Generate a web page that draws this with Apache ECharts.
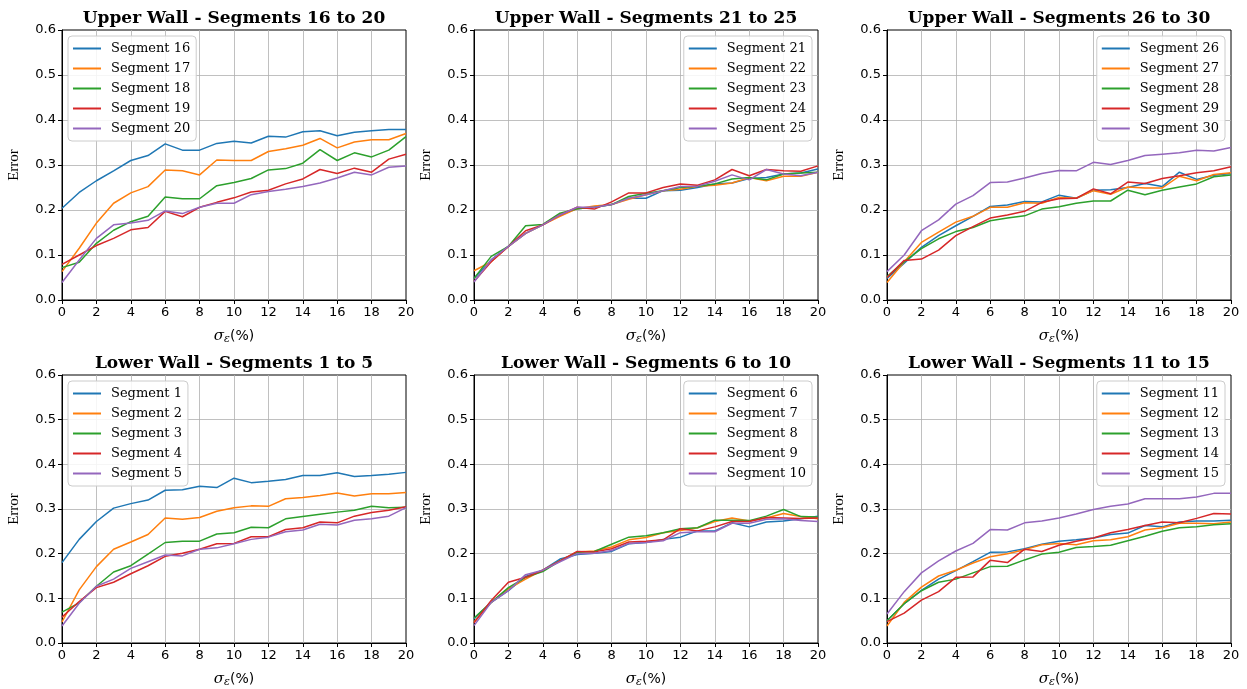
<!DOCTYPE html>
<html><head><meta charset="utf-8">
<script src="https://cdn.jsdelivr.net/npm/echarts@6/dist/echarts.min.js"></script>
<style>html,body{margin:0;padding:0;background:#fff}#c{width:1247px;height:689px}</style>
</head><body><div id="c"></div>
<script>
const xs = [0,1,2,3,4,5,6,7,8,9,10,11,12,13,14,15,16,17,18,19,20];
const xTicks = [0,2,4,6,8,10,12,14,16,18,20];
const yTicks = [0.0,0.1,0.2,0.3,0.4,0.5,0.6];

// Upper wall 16-20
const seg16 = [0.204,0.239,0.265,0.287,0.310,0.321,0.347,0.333,0.333,0.348,0.353,0.349,0.364,0.362,0.374,0.376,0.365,0.373,0.376,0.379,0.379];
const seg17 = [0.063,0.115,0.171,0.215,0.238,0.252,0.289,0.287,0.278,0.311,0.310,0.310,0.330,0.336,0.344,0.359,0.338,0.351,0.356,0.356,0.370];
const seg18 = [0.072,0.084,0.126,0.155,0.174,0.186,0.229,0.225,0.225,0.254,0.261,0.270,0.289,0.292,0.304,0.334,0.310,0.327,0.318,0.333,0.363];
const seg19 = [0.079,0.100,0.121,0.137,0.156,0.161,0.197,0.185,0.206,0.217,0.227,0.240,0.244,0.258,0.269,0.290,0.281,0.293,0.284,0.313,0.324];
const seg20 = [0.039,0.089,0.137,0.167,0.171,0.177,0.198,0.192,0.206,0.215,0.215,0.234,0.241,0.246,0.252,0.260,0.271,0.284,0.278,0.295,0.298];
// Upper wall 21-25
const seg21 = [0.048,0.089,0.119,0.148,0.167,0.189,0.203,0.206,0.212,0.226,0.226,0.243,0.244,0.250,0.258,0.260,0.270,0.272,0.280,0.282,0.291];
const seg22 = [0.065,0.085,0.119,0.148,0.167,0.186,0.203,0.209,0.212,0.224,0.234,0.243,0.246,0.253,0.255,0.260,0.272,0.265,0.275,0.275,0.284];
const seg23 = [0.048,0.097,0.119,0.165,0.168,0.193,0.203,0.206,0.212,0.230,0.237,0.243,0.250,0.253,0.258,0.269,0.272,0.267,0.280,0.282,0.284];
const seg24 = [0.041,0.085,0.119,0.154,0.167,0.189,0.206,0.202,0.218,0.238,0.238,0.250,0.258,0.255,0.267,0.290,0.276,0.290,0.287,0.286,0.298];
const seg25 = [0.040,0.089,0.119,0.148,0.167,0.189,0.206,0.206,0.212,0.226,0.234,0.243,0.252,0.253,0.264,0.278,0.267,0.290,0.280,0.276,0.284];
// Upper wall 26-30
const seg26 = [0.048,0.082,0.117,0.143,0.165,0.186,0.208,0.211,0.219,0.218,0.233,0.226,0.244,0.245,0.250,0.259,0.252,0.284,0.268,0.277,0.281];
const seg27 = [0.039,0.085,0.128,0.151,0.173,0.186,0.206,0.206,0.216,0.215,0.228,0.226,0.243,0.235,0.251,0.249,0.249,0.275,0.265,0.279,0.283];
const seg28 = [0.052,0.085,0.114,0.136,0.152,0.161,0.176,0.182,0.187,0.202,0.207,0.215,0.220,0.220,0.244,0.234,0.244,0.251,0.258,0.274,0.278];
const seg29 = [0.050,0.088,0.091,0.111,0.143,0.163,0.182,0.189,0.197,0.217,0.225,0.226,0.247,0.236,0.262,0.259,0.270,0.276,0.283,0.287,0.296];
const seg30 = [0.063,0.100,0.154,0.178,0.213,0.232,0.261,0.262,0.271,0.281,0.288,0.287,0.306,0.301,0.310,0.321,0.324,0.327,0.333,0.331,0.339];
// Lower wall 1-5
const seg1 = [0.180,0.232,0.272,0.302,0.312,0.320,0.342,0.343,0.351,0.348,0.369,0.359,0.362,0.366,0.375,0.375,0.381,0.373,0.375,0.378,0.382];
const seg2 = [0.047,0.119,0.171,0.210,0.226,0.243,0.280,0.277,0.281,0.295,0.303,0.307,0.306,0.323,0.326,0.330,0.336,0.329,0.334,0.334,0.337];
const seg3 = [0.069,0.090,0.127,0.159,0.173,0.199,0.225,0.228,0.228,0.244,0.247,0.259,0.258,0.278,0.283,0.288,0.293,0.297,0.306,0.303,0.304];
const seg4 = [0.058,0.093,0.124,0.136,0.155,0.173,0.194,0.201,0.210,0.222,0.223,0.238,0.238,0.254,0.258,0.271,0.269,0.284,0.292,0.297,0.305];
const seg5 = [0.038,0.089,0.127,0.143,0.167,0.182,0.197,0.195,0.210,0.213,0.222,0.232,0.237,0.249,0.253,0.266,0.264,0.275,0.278,0.284,0.303];
// Lower wall 6-10
const seg6 = [0.054,0.091,0.117,0.149,0.163,0.188,0.198,0.201,0.205,0.222,0.225,0.232,0.237,0.251,0.251,0.269,0.260,0.271,0.273,0.278,0.284];
const seg7 = [0.047,0.091,0.121,0.143,0.163,0.184,0.204,0.206,0.215,0.231,0.236,0.247,0.252,0.258,0.272,0.280,0.273,0.280,0.290,0.283,0.278];
const seg8 = [0.056,0.091,0.124,0.147,0.160,0.184,0.203,0.205,0.221,0.237,0.240,0.247,0.256,0.258,0.275,0.275,0.274,0.284,0.299,0.283,0.282];
const seg9 = [0.045,0.095,0.136,0.147,0.163,0.184,0.205,0.204,0.211,0.226,0.228,0.231,0.256,0.251,0.260,0.272,0.272,0.281,0.280,0.279,0.280];
const seg10 = [0.039,0.091,0.117,0.153,0.163,0.182,0.200,0.201,0.207,0.223,0.225,0.229,0.247,0.249,0.249,0.268,0.268,0.277,0.278,0.274,0.272];
// Lower wall 11-15
const seg11 = [0.050,0.088,0.118,0.143,0.162,0.182,0.203,0.204,0.211,0.221,0.228,0.231,0.235,0.243,0.246,0.263,0.260,0.271,0.273,0.273,0.275];
const seg12 = [0.038,0.091,0.125,0.150,0.163,0.179,0.193,0.200,0.209,0.220,0.223,0.220,0.229,0.231,0.238,0.253,0.258,0.268,0.268,0.267,0.271];
const seg13 = [0.050,0.088,0.117,0.136,0.143,0.157,0.171,0.172,0.186,0.199,0.203,0.214,0.216,0.219,0.229,0.239,0.250,0.258,0.260,0.265,0.267];
const seg14 = [0.048,0.067,0.096,0.115,0.147,0.148,0.185,0.180,0.210,0.205,0.219,0.228,0.235,0.247,0.254,0.263,0.271,0.269,0.279,0.290,0.289];
const seg15 = [0.065,0.115,0.157,0.184,0.206,0.223,0.254,0.253,0.269,0.273,0.280,0.289,0.299,0.306,0.311,0.323,0.323,0.323,0.327,0.335,0.335];

const panelTitles = ['Upper Wall - Segments 16 to 20','Upper Wall - Segments 21 to 25','Upper Wall - Segments 26 to 30',
                     'Lower Wall - Segments 1 to 5','Lower Wall - Segments 6 to 10','Lower Wall - Segments 11 to 15'];
const panelSeries = [
  [['Segment 16',seg16],['Segment 17',seg17],['Segment 18',seg18],['Segment 19',seg19],['Segment 20',seg20]],
  [['Segment 21',seg21],['Segment 22',seg22],['Segment 23',seg23],['Segment 24',seg24],['Segment 25',seg25]],
  [['Segment 26',seg26],['Segment 27',seg27],['Segment 28',seg28],['Segment 29',seg29],['Segment 30',seg30]],
  [['Segment 1',seg1],['Segment 2',seg2],['Segment 3',seg3],['Segment 4',seg4],['Segment 5',seg5]],
  [['Segment 6',seg6],['Segment 7',seg7],['Segment 8',seg8],['Segment 9',seg9],['Segment 10',seg10]],
  [['Segment 11',seg11],['Segment 12',seg12],['Segment 13',seg13],['Segment 14',seg14],['Segment 15',seg15]]
];
const colors = ['#1f77b4','#ff7f0e','#2ca02c','#d62728','#9467bd'];

// layout
const W = 1247;
const lefts = [62, 474, 887];
const tops = [30, 375];
const pw = 344, ph = 270;
const legendLeftPanel = [true,false,false,true,false,false];

const grids=[], xAxes=[], yAxes=[], titles=[], legends=[], series=[];
for (let p=0;p<6;p++){
  const col=p%3,row=Math.floor(p/3);
  const L=lefts[col], T=tops[row];
  grids.push({left:L, top:T, width:pw, height:ph, show:true, borderColor:'#000', borderWidth:1, containLabel:false});
  xAxes.push({type:'value', gridIndex:p, min:0, max:20, interval:2,
    name:'{s|σ}{e|ε}{n|(%)}', nameLocation:'middle', nameGap:28,
    nameTextStyle:{rich:{s:{fontFamily:'DejaVu Serif',fontStyle:'italic',fontSize:15,color:'#000'},
                         e:{fontFamily:'DejaVu Serif',fontStyle:'italic',fontSize:11,color:'#000',verticalAlign:'bottom',padding:[6,0,0,0]},
                         n:{fontFamily:'DejaVu Sans',fontSize:14,color:'#000'}}},
    axisLine:{show:true,lineStyle:{color:'#000',width:1}},
    axisTick:{show:true,inside:false,length:4,lineStyle:{color:'#000',width:1}},
    axisLabel:{color:'#000',fontFamily:'DejaVu Sans',fontSize:13,margin:6},
    splitLine:{show:true,showMinLine:false,showMaxLine:false,lineStyle:{color:'#b0b0b0',width:0.8}}
  });
  yAxes.push({type:'value', gridIndex:p, min:0, max:0.6, interval:0.1,
    name:'Error', nameLocation:'middle', nameGap:40,
    nameTextStyle:{fontFamily:'Liberation Serif',fontSize:15,color:'#000'},
    axisLine:{show:true,lineStyle:{color:'#000',width:1}},
    axisTick:{show:true,inside:false,length:4,lineStyle:{color:'#000',width:1}},
    axisLabel:{color:'#000',fontFamily:'DejaVu Sans',fontSize:13,margin:6,formatter:v=>v.toFixed(1)},
    splitLine:{show:true,showMinLine:false,showMaxLine:false,lineStyle:{color:'#b0b0b0',width:0.8}}
  });
  titles.push({text:panelTitles[p], left:L+pw/2-5, top:T-25, textAlign:'center',
    textStyle:{fontFamily:'DejaVu Serif',fontWeight:'bold',fontSize:17,color:'#000'}});
  const names=panelSeries[p].map(s=>s[0]);
  const lg={data:names, orient:'vertical', top:T+6, icon:'rect', itemWidth:28, itemHeight:2, itemGap:5,
    padding:[5,6,5,5], borderColor:'#cccccc', borderWidth:1, borderRadius:4, backgroundColor:'rgba(255,255,255,0.85)',
    selectedMode:false,
    textStyle:{fontFamily:'DejaVu Serif',fontSize:13,color:'#000',lineHeight:15,padding:[0,0,0,5]}};
  if(legendLeftPanel[p]) lg.left=L+6; else lg.right=W-(L+pw-6);
  legends.push(lg);
  panelSeries[p].forEach((s,i)=>{
    series.push({type:'line', name:s[0], xAxisIndex:p, yAxisIndex:p, symbol:'none', showSymbol:false,
      color:colors[i], lineStyle:{width:1.5,color:colors[i]}, animation:false,
      data: xs.map((x,k)=>[x,s[1][k]])});
  });
}

const chart = echarts.init(document.getElementById('c'), null, {renderer:'canvas'});
chart.setOption({backgroundColor:'#fff', animation:false, title:titles, grid:grids, xAxis:xAxes, yAxis:yAxes, legend:legends, series:series});
</script></body></html>
